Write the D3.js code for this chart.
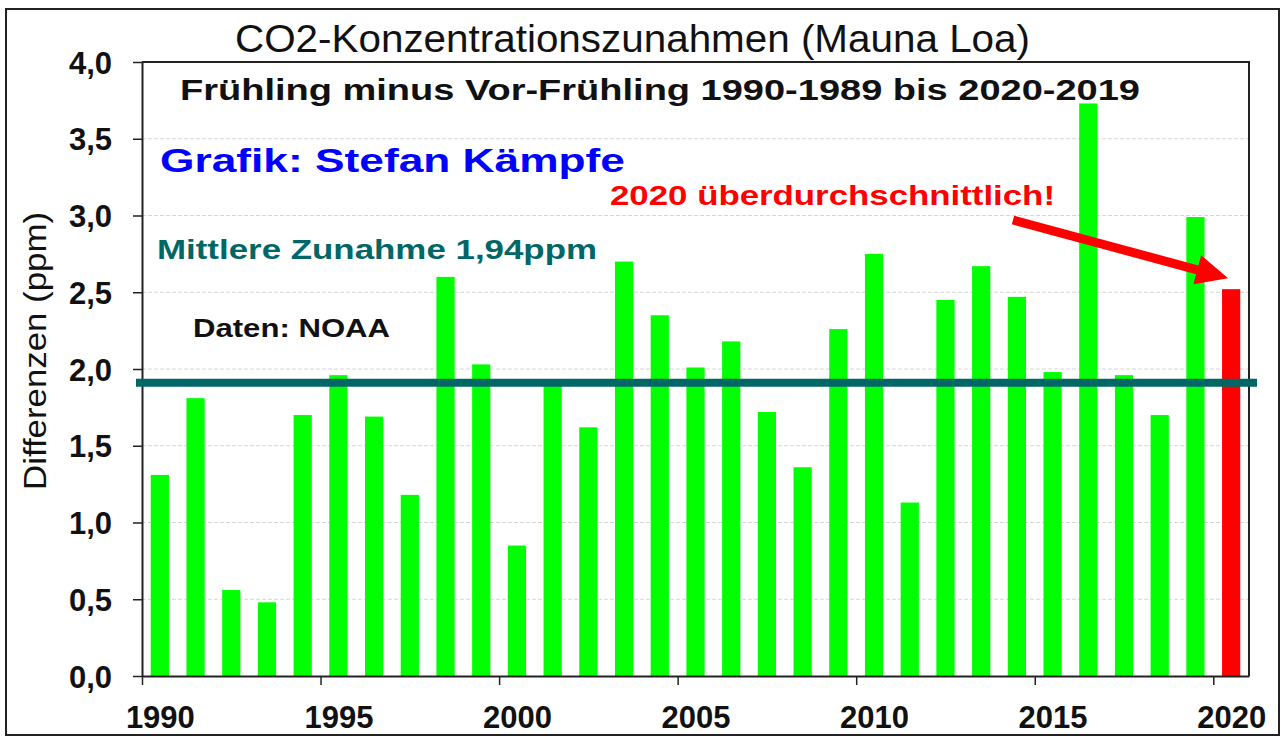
<!DOCTYPE html>
<html>
<head>
<meta charset="utf-8">
<script src="https://cdn.jsdelivr.net/npm/d3@7"></script>
<style>
  body { margin: 0; background: #fff; }
  text { font-family: "Liberation Sans", Arial, sans-serif; }
</style>
</head>
<body>
<svg id="chart" width="1285" height="742"></svg>
<script>
// data
const years = [1990, 1991, 1992, 1993, 1994, 1995, 1996, 1997, 1998, 1999,
               2000, 2001, 2002, 2003, 2004, 2005, 2006, 2007, 2008, 2009,
               2010, 2011, 2012, 2013, 2014, 2015, 2016, 2017, 2018, 2019, 2020];
const diffs = [1.31, 1.81, 0.56, 0.48, 1.70, 1.96, 1.69, 1.18, 2.60, 2.03,
               0.85, 1.89, 1.62, 2.70, 2.35, 2.01, 2.18, 1.72, 1.36, 2.26,
               2.75, 1.13, 2.45, 2.67, 2.47, 1.98, 3.73, 1.96, 1.70, 2.99, 2.52];
const highlightYear = 2020;
const meanLevel = 1.91;          // where the line is drawn
const yTicks = [0, 0.5, 1, 1.5, 2, 2.5, 3, 3.5, 4];
const xTicks = [1990, 1995, 2000, 2005, 2010, 2015, 2020];

const titleText = "CO2-Konzentrationszunahmen (Mauna Loa)";
const subTitleText = "Frühling minus Vor-Frühling 1990-1989 bis 2020-2019";
const authorText = "Grafik: Stefan Kämpfe";
const noteText = "2020 überdurchschnittlich!";
const meanText = "Mittlere Zunahme 1,94ppm";
const sourceText = "Daten: NOAA";
const yLabel = "Differenzen (ppm)";

let svg = d3.select("#chart");
let margin = {top: 62, right: 36, bottom: 66, left: 142},
    width = 1285 - margin.left - margin.right,
    height = 742 - margin.top - margin.bottom;

let data = years.map(function(y, i) { return {year: y, value: diffs[i]}; });

// scales
let x = d3.scaleBand().domain(years).range([0, width]).paddingInner(0.49).paddingOuter(0.245);
let xYear = d3.scaleLinear().domain([years[0], years[years.length - 1] + 1]).range([0, width]);
let y = d3.scaleLinear().domain([0, 4]).range([height, 0]);
let comma = d3.formatLocale({decimal: ",", thousands: ".", grouping: [3], currency: ["", " €"]}).format(".1f");

// outer frame
svg.append("rect")
  .attr("x", 6).attr("y", 9).attr("width", 1273).attr("height", 726)
  .attr("fill", "#fff").attr("stroke", "#222").attr("stroke-width", 2);

let g = svg.append("g").attr("transform", "translate(" + margin.left + "," + margin.top + ")");

// grid
g.selectAll(".grid")
  .data(yTicks.filter(function(d) { return d > 0 && d < 4; }))
  .enter().append("line")
  .attr("class", "grid")
  .attr("x1", 0).attr("x2", width)
  .attr("y1", function(d) { return y(d); }).attr("y2", function(d) { return y(d); })
  .attr("stroke", "#d6d6d6").attr("stroke-width", 1).attr("stroke-dasharray", "4,2");

// bars
g.selectAll(".bar")
  .data(data)
  .enter().append("rect")
  .attr("class", "bar")
  .attr("x", function(d) { return x(d.year); })
  .attr("width", x.bandwidth())
  .attr("y", function(d) { return y(d.value); })
  .attr("height", function(d) { return height - y(d.value); })
  .attr("fill", function(d) { return d.year === highlightYear ? "#ff0000" : "#00ff00"; });

// plot frame top / right
g.append("path")
  .attr("d", "M0," + y(4) + "H" + width + "V" + height)
  .attr("fill", "none").attr("stroke", "#222").attr("stroke-width", 2);

// y axis
let yAxis = g.append("g")
  .attr("class", "axis axis-y")
  .call(d3.axisLeft(y).tickValues(yTicks).tickFormat(comma).tickSize(9).tickSizeOuter(0));
yAxis.select(".domain").attr("stroke", "#222").attr("stroke-width", 2);
yAxis.selectAll(".tick line").attr("stroke", "#222").attr("stroke-width", 1.5);
yAxis.selectAll(".tick text")
  .attr("x", -30).attr("dy", "0.36em")
  .attr("fill", "#111")
  .style("font-size", "31px").style("font-weight", "bold")
  .style("font-family", "'Liberation Sans', Arial, sans-serif");

// x axis: ticks between categories, labels centred on the bar
let xAxis = g.append("g")
  .attr("class", "axis axis-x")
  .attr("transform", "translate(0," + height + ")")
  .call(d3.axisBottom(xYear).tickValues(xTicks).tickFormat(d3.format("d")).tickSize(9).tickSizeOuter(0));
xAxis.select(".domain").attr("stroke", "#222").attr("stroke-width", 2);
xAxis.selectAll(".tick line").attr("stroke", "#222").attr("stroke-width", 1.5);
xAxis.selectAll(".tick text")
  .attr("x", function(d) { return x(d) + x.bandwidth() / 2 - xYear(d); })
  .attr("y", 52).attr("dy", null)
  .attr("fill", "#111")
  .style("font-size", "31px").style("font-weight", "bold")
  .style("font-family", "'Liberation Sans', Arial, sans-serif");

// y label
svg.append("text")
  .attr("transform", "translate(46," + (margin.top + height / 2 - 18) + ") rotate(-90)")
  .attr("text-anchor", "middle")
  .attr("textLength", 278).attr("lengthAdjust", "spacingAndGlyphs")
  .style("font-size", "31px")
  .attr("fill", "#111")
  .text(yLabel);

// mean line
g.append("line")
  .attr("x1", -6).attr("x2", width + 8)
  .attr("y1", y(meanLevel)).attr("y2", y(meanLevel))
  .attr("stroke", "#006666").attr("stroke-width", 8);

// texts
function label(txt, px, py, size, weight, color, len) {
  svg.append("text")
    .attr("x", px).attr("y", py)
    .attr("textLength", len).attr("lengthAdjust", "spacingAndGlyphs")
    .style("font-size", size + "px").style("font-weight", weight)
    .attr("fill", color)
    .text(txt);
}
label(titleText, 235, 52, 38, "normal", "#111", 795);
label(subTitleText, 180, 100, 30, "bold", "#111", 960);
label(authorText, 160, 172, 33, "bold", "#0000ff", 465);
label(noteText, 610, 205, 28, "bold", "#ff0000", 445);
label(meanText, 157, 259, 28, "bold", "#006666", 440);
label(sourceText, 193, 337, 25, "bold", "#111", 197);

// arrow pointing at the highlighted bar
let hi = data[data.length - 1];
let tip = [margin.left + x(hi.year) + x.bandwidth() / 2 - 3, margin.top + y(hi.value) - 11],
    tail = [1013, 220];
let dx = tip[0] - tail[0], dy = tip[1] - tail[1], len = Math.sqrt(dx * dx + dy * dy);
let ux = dx / len, uy = dy / len, nx = -uy, ny = ux;
let shaft = 4.5, headW = 15, headL = 32;
let bx = tip[0] - ux * headL, by = tip[1] - uy * headL;
let pts = [
  [tail[0] + nx * shaft, tail[1] + ny * shaft],
  [bx + nx * shaft, by + ny * shaft],
  [bx + nx * headW, by + ny * headW],
  tip,
  [bx - nx * headW, by - ny * headW],
  [bx - nx * shaft, by - ny * shaft],
  [tail[0] - nx * shaft, tail[1] - ny * shaft]
];
svg.append("polygon")
  .attr("points", pts.map(function(p) { return p.join(","); }).join(" "))
  .attr("fill", "#ff0000");
</script>
</body>
</html>
